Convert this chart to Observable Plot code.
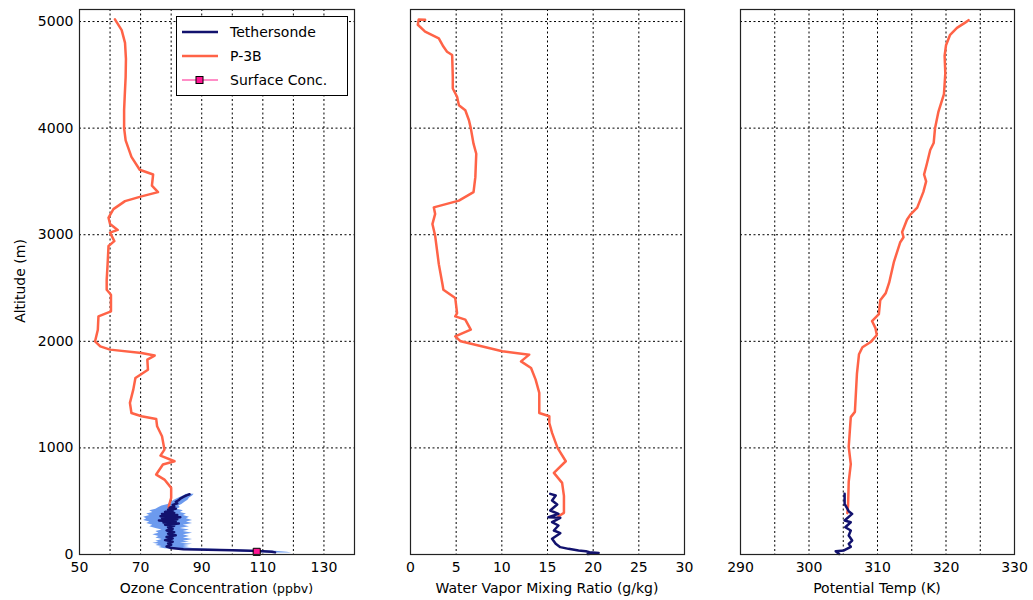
<!DOCTYPE html>
<html><head><meta charset="utf-8">
<script src="https://cdn.jsdelivr.net/npm/d3@7"></script>
<script src="https://cdn.jsdelivr.net/npm/@observablehq/plot@0.6"></script>
<style>
body{margin:0;background:#fff;font-family:"DejaVu Sans",sans-serif;}
#wrap{position:relative;width:1033px;height:600px;display:flex;}
#legend{position:absolute;left:176px;top:16px;width:170px;height:78px;border:1px solid #000;background:#fff;font-size:14px;color:#000;}
.row{position:absolute;left:0;height:20px;display:flex;align-items:center;}
.row svg{position:absolute;left:5px;}
.row span{position:absolute;left:53px;white-space:nowrap;}
</style></head><body>
<div id="wrap"><div id="p1"></div><div id="p2"></div><div id="p3"></div>
<div id="legend"></div></div>
<script>
// ---- DATA ----
const altTicks = [0, 1000, 2000, 3000, 4000, 5000];
const altGrid = [1000, 2000, 3000, 4000, 5000];

const ozoneGrid = [60, 70, 80, 90, 100, 110, 120, 130];
const ozoneTicks = [50, 70, 90, 110, 130];
const wvGrid = [5, 10, 15, 20, 25];
const wvTicks = [0, 5, 10, 15, 20, 25, 30];
const ptGrid = [295, 300, 305, 310, 315, 320, 325];
const ptTicks = [290, 300, 310, 320, 330];

// P-3B profiles: [altitude m, value]
const p3bOzone = [[5020,61.6],[4920,63.8],[4800,64.9],[4650,65.2],[4480,65.1],[4300,64.8],[4170,64.6],[4000,64.6],[3885,65.1],[3730,67.0],[3610,69.7],[3565,74.1],[3460,73.7],[3400,75.7],[3360,70.3],[3315,64.9],[3240,61.1],[3160,59.5],[3100,60.0],[3045,62.5],[3020,60.0],[2940,61.4],[2895,59.5],[2725,59.2],[2578,58.9],[2484,58.9],[2437,60.3],[2281,60.3],[2234,56.2],[2109,56.0],[2000,55.1],[1953,56.8],[1922,60.0],[1890,70.3],[1866,74.6],[1828,72.2],[1734,72.4],[1656,68.3],[1547,67.6],[1422,66.5],[1328,67.0],[1297,70.3],[1272,75.1],[1203,75.4],[1109,77.0],[984,77.8],[928,76.5],[875,81.1],[844,77.3],[750,75.1],[703,77.8],[625,80.0],[531,80.0],[450,79.2],[391,79.5],[359,80.0],[345,79.3]];
const p3bWV = [[5016,1.6],[5020,0.9],[4970,0.8],[4906,1.6],[4843,3.1],[4765,3.6],[4717,4.0],[4686,4.56],[4482,4.63],[4372,4.63],[4294,5.1],[4215,5.3],[4168,6.0],[4074,6.4],[4000,6.6],[3854,6.9],[3760,7.2],[3540,7.1],[3399,6.9],[3320,5.3],[3257,2.55],[3195,2.7],[3100,2.4],[2990,2.7],[2724,3.1],[2535,3.5],[2484,3.6],[2406,4.9],[2265,5.1],[2234,4.9],[2203,6.0],[2109,6.6],[2047,4.9],[2000,5.5],[1906,10.05],[1875,13.0],[1812,12.1],[1750,13.2],[1641,13.7],[1516,14.1],[1328,14.1],[1297,15.2],[1234,15.2],[1141,15.5],[1000,16.1],[875,17.0],[766,15.7],[672,16.6],[550,16.8],[391,16.8],[359,16.2]];
const p3bPT = [[5013,323.3],[4990,322.8],[4941,321.6],[4876,320.6],[4777,320.0],[4679,319.8],[4515,319.9],[4319,319.7],[4155,318.9],[4000,318.4],[3860,318.2],[3795,317.7],[3664,317.2],[3565,316.8],[3500,317.1],[3402,316.7],[3254,315.8],[3189,314.8],[3140,314.3],[3025,313.6],[2976,313.8],[2927,313.3],[2746,312.4],[2550,311.7],[2452,311.2],[2386,310.4],[2255,310.2],[2190,309.2],[2124,309.7],[2059,309.9],[1993,309.0],[1944,307.8],[1879,307.3],[1698,307.0],[1338,306.7],[1289,306.1],[1010,305.8],[847,306.1],[683,305.8],[454,305.7],[388,305.6]];

// Tethersonde profiles: [altitude m, value]
const tetherOzone = [[565,86.0],[555,85.0],[540,84.0],[525,83.0],[510,82.5],[495,81.5],[480,82.0],[465,80.5],[450,81.0],[440,79.5],[430,81.5],[420,79.0],[410,80.5],[400,78.0],[390,81.0],[380,77.0],[370,82.0],[360,76.5],[350,83.0],[340,77.0],[330,82.0],[320,76.0],[310,81.5],[300,77.5],[290,82.5],[280,78.0],[270,81.0],[255,79.0],[240,80.5],[225,78.5],[210,81.0],[195,79.0],[180,81.5],[165,78.5],[150,80.5],[135,78.0],[120,80.5],[105,79.0],[90,80.0],[75,78.5],[60,80.0],[50,84.0],[45,92.0],[40,100.0],[35,106.0],[30,110.0],[25,113.0],[20,114.0]];
// [altitude m, low, high] spread of tethersonde ozone
const tetherOzoneBand = [[15,112,119.5],[22,106,118],[30,98,114],[38,90,106],[46,83,96],[55,78,88],[65,76,84],[75,77,86],[85,75,84],[95,76,87],[105,74,83],[115,76,86],[125,75,84],[140,77,87],[155,75,84],[170,76,86],[185,74,84],[200,76,87],[215,75,84],[230,77,86],[245,75,83],[260,73,86],[275,74,84],[290,72,87],[305,73,85],[320,71,87],[335,72,85],[350,71,86],[365,73,84],[380,72,85],[395,74,83],[410,73,84],[425,75,82],[440,76,83],[455,77,82.5],[470,79,83.5],[490,80,84.5],[510,81,85.5],[530,82.5,86],[550,84,87],[565,85,87.5]];
const tetherWV = [[569,15.3],[553,15.9],[506,15.5],[469,16.06],[413,15.3],[381,16.2],[350,15.1],[344,16.4],[303,15.5],[272,16.2],[225,15.7],[200,16.4],[147,15.5],[100,15.9],[69,16.4],[53,17.3],[38,18.4],[31,19.2],[22,19.6],[14,20.6],[4,19.4]];
const tetherPT = [[569,305.2],[475,305.2],[406,305.8],[381,306.3],[319,305.2],[303,306.1],[256,305.3],[225,306.1],[178,305.8],[131,306.3],[100,305.8],[72,306.1],[38,305.1],[31,303.9],[5,304.4]];

const surfaceConc = [[25, 108]];

// ---- COLOURS ----
const cP3B = "#ff6347", cTether = "#12126e", cBand = "#6495ed", cSurf = "#ff1493";

function panel(el, {width, ml, mr, xDomain, grid, ticks, showY, marks, label}) {
  const svg = Plot.plot({
    width, height: 600, marginLeft: ml, marginRight: mr, marginTop: 9, marginBottom: 46,
    style: {fontFamily: "'DejaVu Sans', sans-serif", fontSize: "14px", color: "#000", background: "transparent", overflow: "visible"},
    x: {domain: xDomain, axis: null},
    y: {domain: [0, 5113], axis: null},
    marks: [
      Plot.gridX(grid, {stroke: "#000", strokeOpacity: 1, strokeWidth: 1, strokeDasharray: "2,2.5"}),
      Plot.gridY(altGrid, {stroke: "#000", strokeOpacity: 1, strokeWidth: 1, strokeDasharray: "2,2.5"}),
      ...marks,
      Plot.frame({stroke: "#222", strokeWidth: 1.2}),
      Plot.axisX(ticks, {tickSize: 0, tickPadding: 8, fontSize: 14, label: null, tickFormat: d => `${d}`}),
      showY ? Plot.axisY(altTicks, {tickSize: 0, tickPadding: 6, fontSize: 14, label: null, tickFormat: d => `${d}`}) : null
    ]
  });
  const s = d3.select(svg);
  const t = s.append("text").attr("x", ml + (width - ml - mr) / 2).attr("y", 593)
    .attr("text-anchor", "middle").attr("font-size", 14).attr("fill", "#000");
  t.append("tspan").text(label[0]);
  if (label[1]) t.append("tspan").attr("font-size", 12.5).text(label[1]);
  if (showY) {
    s.append("text").attr("transform", "translate(20,281) rotate(-90)")
      .attr("text-anchor", "middle").attr("dominant-baseline", "central")
      .attr("font-size", 14).attr("fill", "#000").text("Altitude (m)");
  }
  document.getElementById(el).appendChild(svg);
}

const xy = {x: d => d[1], y: d => d[0]};

panel("p1", {width: 360, ml: 79, mr: 6, xDomain: [50, 140], grid: ozoneGrid, ticks: ozoneTicks, showY: true,
  label: ["Ozone Concentration ", "(ppbv)"],
  marks: [
    Plot.areaX(tetherOzoneBand, {y: d => d[0], x1: d => d[1], x2: d => d[2], fill: cBand, fillOpacity: 0.95}),
    Plot.line(p3bOzone, {...xy, stroke: cP3B, strokeWidth: 2.5}),
    Plot.line(tetherOzone, {...xy, stroke: cTether, strokeWidth: 2.5}),
    Plot.dot(surfaceConc, {...xy, symbol: "square", r: 4, fill: cSurf, stroke: "#000", strokeWidth: 1})
  ]});
panel("p2", {width: 340, ml: 50, mr: 16, xDomain: [0, 30], grid: wvGrid, ticks: wvTicks, showY: false,
  label: ["Water Vapor Mixing Ratio (g/kg)"],
  marks: [
    Plot.line(p3bWV, {...xy, stroke: cP3B, strokeWidth: 2.5}),
    Plot.line(tetherWV, {...xy, stroke: cTether, strokeWidth: 2.5})
  ]});
panel("p3", {width: 333, ml: 40, mr: 19, xDomain: [290, 330], grid: ptGrid, ticks: ptTicks, showY: false,
  label: ["Potential Temp (K)"],
  marks: [
    Plot.line(p3bPT, {...xy, stroke: cP3B, strokeWidth: 2.5}),
    Plot.line(tetherPT, {...xy, stroke: cTether, strokeWidth: 2.5})
  ]});

// ---- LEGEND ----
const legendItems = [
  {name: "Tethersonde", color: cTether, marker: false},
  {name: "P-3B", color: cP3B, marker: false},
  {name: "Surface Conc.", color: "#ff69b4", marker: true}
];
const leg = document.getElementById("legend");
legendItems.forEach((it, i) => {
  const row = document.createElement("div");
  row.className = "row";
  row.style.top = (5 + i * 24) + "px";
  row.style.width = "170px";
  row.innerHTML = `<svg width="40" height="20"><line x1="0" x2="36" y1="10" y2="10" stroke="${it.color}" stroke-width="${it.marker ? 1.5 : 2.5}"/>${it.marker ? `<rect x="14" y="6.5" width="7" height="7" fill="${cSurf}" stroke="#000" stroke-width="1"/>` : ""}</svg><span>${it.name}</span>`;
  leg.appendChild(row);
});
</script></body></html>
